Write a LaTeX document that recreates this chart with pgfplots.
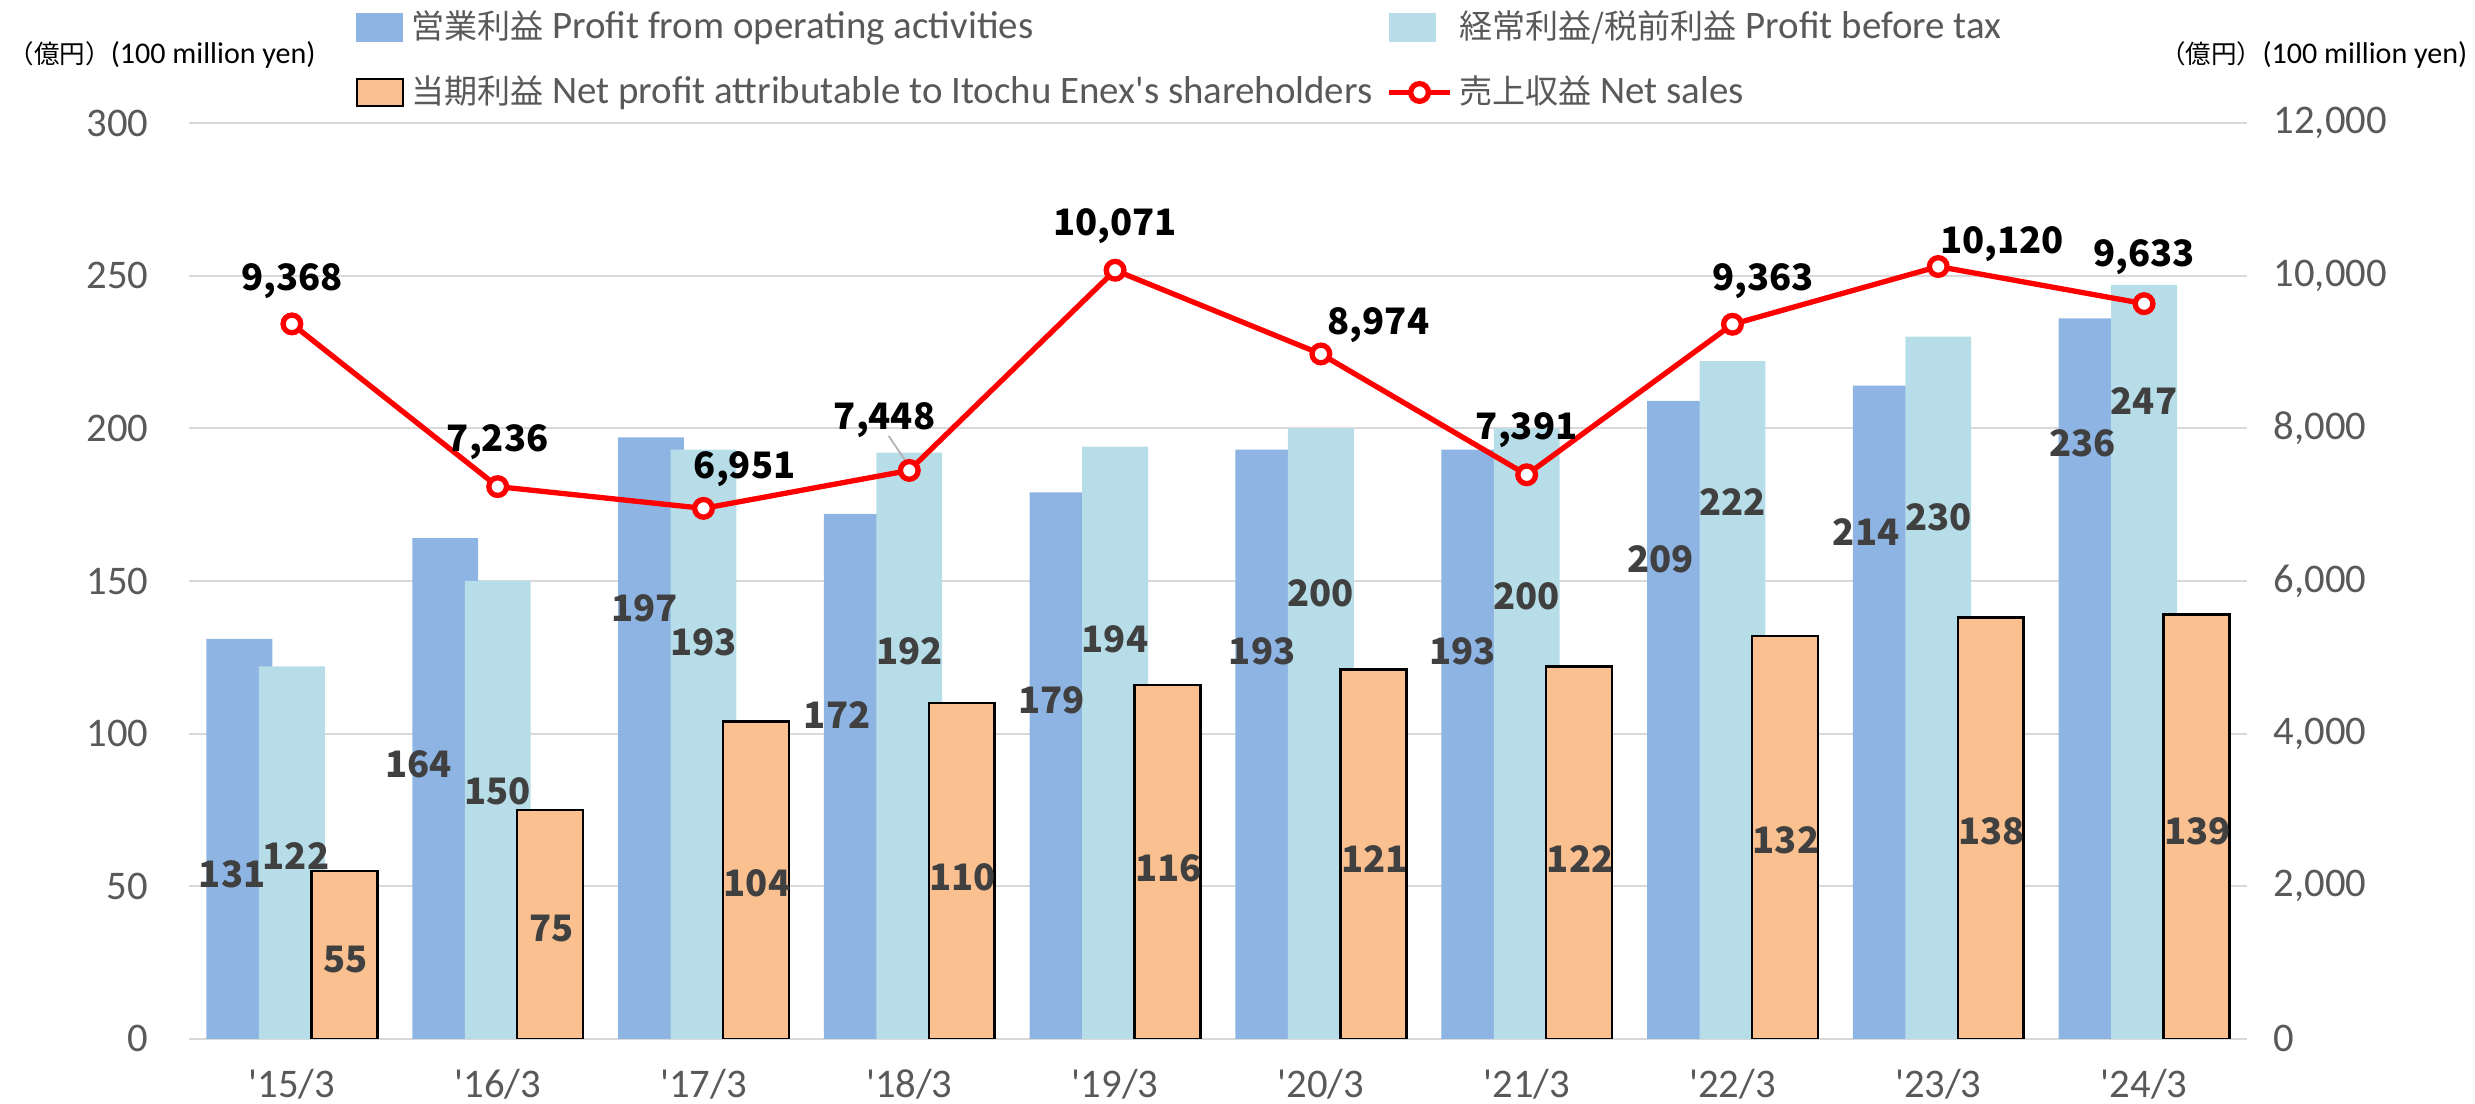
\documentclass[border=0pt]{standalone}
\usepackage{fontspec}
\usepackage{pgfplots}
\pgfplotsset{compat=1.18}
\setmainfont{Carlito}
\newfontfamily\cjk[Scale=0.85]{Noto Sans CJK JP}
\newfontfamily\lblfont{Noto Sans CJK JP}

\definecolor{opblue}{HTML}{8EB4E3}
\definecolor{ptblue}{HTML}{B7DEE8}
\definecolor{netor}{HTML}{FAC090}
\definecolor{tickgray}{HTML}{595959}
\definecolor{lblgray}{HTML}{404040}
\definecolor{gridgray}{HTML}{D9D9D9}

\pgfplotsset{
  base/.style={
    scale only axis, width=582pt, height=259pt,
    at={(0,0)}, anchor=south west,
    xmin=-0.5, xmax=9.5,
    major tick length=0pt,
    axis line style={draw=none},
    tick label style={font=\fontsize{11.5}{13}\selectfont, text=tickgray},
    /pgf/number format/assume math mode=true,
  },
}
\tikzset{
  lbl/.style={font=\lblfont\bfseries\fontsize{10.3}{12}\selectfont, text=lblgray, inner sep=0pt},
  slbl/.style={font=\lblfont\bfseries\fontsize{10.3}{12}\selectfont, text=black, inner sep=0pt},
}

\begin{document}
\begin{tikzpicture}
% left axis: profits (bars)
\begin{axis}[base,
  ymin=0, ymax=300, ytick={0,50,...,300},
  ymajorgrids, grid style={gridgray, line width=0.6pt},
  xtick={0,...,9},
  xticklabels={\textquotesingle15/3,\textquotesingle16/3,\textquotesingle17/3,\textquotesingle18/3,\textquotesingle19/3,\textquotesingle20/3,\textquotesingle21/3,\textquotesingle22/3,\textquotesingle23/3,\textquotesingle24/3},
  xticklabel style={yshift=-5pt},
  yticklabel style={xshift=-8pt},
]
\addplot[ybar, bar width=0.32, bar shift=-0.255, fill=opblue, draw=none]
  coordinates {(0,131) (1,164) (2,197) (3,172) (4,179) (5,193) (6,193) (7,209) (8,214) (9,236)};
\addplot[ybar, bar width=0.32, bar shift=0, fill=ptblue, draw=none]
  coordinates {(0,122) (1,150) (2,193) (3,192) (4,194) (5,200) (6,200) (7,222) (8,230) (9,247)};
\addplot[ybar, bar width=0.32, bar shift=0.255, fill=netor, draw=black, line width=0.7pt]
  coordinates {(0,55) (1,75) (2,104) (3,110) (4,116) (5,121) (6,122) (7,132) (8,138) (9,139)};
% data labels
\node[lbl] at (axis cs:-0.29,54) {131};
\node[lbl] at (axis cs:0.615,90) {164};
\node[lbl] at (axis cs:1.715,141) {197};
\node[lbl] at (axis cs:2.65,106) {172};
\node[lbl] at (axis cs:3.69,111) {179};
\node[lbl] at (axis cs:4.715,127) {193};
\node[lbl] at (axis cs:5.69,127) {193};
\node[lbl] at (axis cs:6.65,157) {209};
\node[lbl] at (axis cs:7.65,166) {214};
\node[lbl] at (axis cs:8.7,195) {236};
\node[lbl] at (axis cs:0.02,60) {122};
\node[lbl] at (axis cs:1.0,81) {150};
\node[lbl] at (axis cs:2.0,130) {193};
\node[lbl] at (axis cs:3.0,127) {192};
\node[lbl] at (axis cs:4.0,131) {194};
\node[lbl] at (axis cs:5.0,146) {200};
\node[lbl] at (axis cs:6.0,145) {200};
\node[lbl] at (axis cs:7.0,176) {222};
\node[lbl] at (axis cs:8.0,171) {230};
\node[lbl] at (axis cs:9.0,209) {247};
\node[lbl] at (axis cs:0.26,26) {55};
\node[lbl] at (axis cs:1.26,36) {75};
\node[lbl] at (axis cs:2.26,51) {104};
\node[lbl] at (axis cs:3.26,53) {110};
\node[lbl] at (axis cs:4.26,56) {116};
\node[lbl] at (axis cs:5.26,59) {121};
\node[lbl] at (axis cs:6.26,59) {122};
\node[lbl] at (axis cs:7.26,65) {132};
\node[lbl] at (axis cs:8.26,68) {138};
\node[lbl] at (axis cs:9.26,68) {139};
\end{axis}

% right axis: net sales (line)
\begin{axis}[base,
  ymin=0, ymax=12000, ytick={0,2000,...,12000},
  scaled y ticks=false,
  /pgf/number format/1000 sep={,},
  axis y line*=right, hide x axis,
  yticklabel style={xshift=4pt},
  legend columns=2,
  legend cell align=left,
  legend style={at={(0.0806,1.131)}, anchor=north west, draw=none, fill=none,
    inner sep=0pt, font=\fontsize{11}{13}\selectfont, text=tickgray,
    row sep=5pt, /tikz/every even column/.append style={column sep=2pt}},
]
\addlegendimage{legend image code/.code={\fill[opblue] (0pt,-3.8pt) rectangle (13pt,3.8pt);}}
\addlegendentry{{\cjk 営業利益} Profit from operating activities}
\addlegendimage{legend image code/.code={\fill[ptblue] (0pt,-3.8pt) rectangle (13pt,3.8pt);}}
\addlegendentry{{\cjk 経常利益/税前利益} Profit before tax}
\addlegendimage{legend image code/.code={\filldraw[fill=netor, draw=black, line width=0.7pt] (0pt,-3.8pt) rectangle (13pt,3.8pt);}}
\addlegendentry{{\cjk 当期利益} Net profit attributable to Itochu Enex\textquotesingle s shareholders}
\addplot[red, line width=1.5pt, mark=*, mark size=2.5pt, mark options={fill=white, draw=red, line width=1.5pt}]
  coordinates {(0,9368) (1,7236) (2,6951) (3,7448) (4,10071) (5,8974) (6,7391) (7,9363) (8,10120) (9,9633)};
\addlegendentry{{\cjk 売上収益} Net sales}
\draw[gray!60, line width=0.5pt] (axis cs:2.9,7900) -- (axis cs:2.98,7580);
\node[slbl] at (axis cs:0,9930) {9,368};
\node[slbl] at (axis cs:1,7820) {7,236};
\node[slbl] at (axis cs:2.2,7470) {6,951};
\node[slbl] at (axis cs:2.88,8110) {7,448};
\node[slbl] at (axis cs:4,10650) {10,071};
\node[slbl] at (axis cs:5.28,9350) {8,974};
\node[slbl] at (axis cs:6,7980) {7,391};
\node[slbl] at (axis cs:7.15,9930) {9,363};
\node[slbl] at (axis cs:8.31,10410) {10,120};
\node[slbl] at (axis cs:9,10240) {9,633};
\end{axis}

\node[anchor=west, font=\fontsize{8.5}{10}\selectfont, inner sep=0pt] at (-51.2pt,278.2pt) {{\cjk （億円）}(100 million yen)};
\node[anchor=east, font=\fontsize{8.5}{10}\selectfont, inner sep=0pt] at (644.5pt,278.2pt) {{\cjk （億円）}(100 million yen)};

\pgfresetboundingbox
\path[use as bounding box] (-53.45pt,-18.4pt) rectangle (646.5pt,293.8pt);
\end{tikzpicture}
\end{document}
